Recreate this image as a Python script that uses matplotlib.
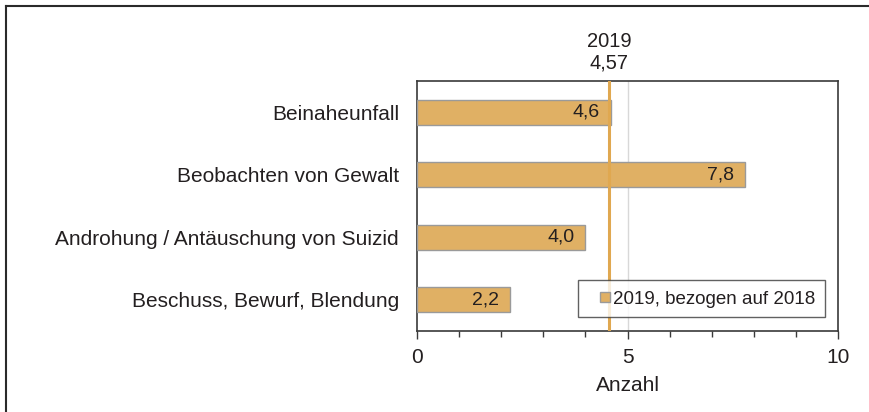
import matplotlib.pyplot as plt
from matplotlib.lines import Line2D
from matplotlib.patches import Rectangle
from matplotlib.legend_handler import HandlerPatch
from matplotlib.ticker import MultipleLocator

plt.rcParams["font.family"] = ["Liberation Sans", "DejaVu Sans"]

categories = [
    "Beinaheunfall",
    "Beobachten von Gewalt",
    "Androhung / Antäuschung von Suizid",
    "Beschuss, Bewurf, Blendung",
]
values = [4.6, 7.8, 4.0, 2.2]
reference_value = 4.57
reference_label = "2019\n4,57"
legend_label = "2019, bezogen auf 2018"

bar_color = "#E0B064"
text_color = "#231F20"


def small_square(legend, orig_handle, xdescent, ydescent, width, height, fontsize):
    # small square at the right end of the handle area
    side = 7.2
    return Rectangle((width - side - xdescent, (height - side) / 2 - ydescent), side, side)


fig = plt.figure(figsize=(8.69, 4.12), dpi=100)
ax = fig.add_axes([0.4799, 0.1966, 0.4844, 0.6068])

y = list(range(len(categories)))
bars = ax.barh(y, values, height=0.4, color=bar_color, edgecolor="#9A9A9A",
               linewidth=1, zorder=3)

for yi, v in zip(y, values):
    ax.annotate(f"{v:.1f}".replace(".", ","), xy=(v, yi), xytext=(-8, 0),
                textcoords="offset points", ha="right", va="center",
                fontsize=14, color=text_color, zorder=4)

ax.set_xlim(0, 10)
ax.set_ylim(3.5, -0.5)
ax.set_yticks(y)
ax.set_yticklabels(categories, fontsize=15, color=text_color)
ax.tick_params(axis="y", length=0, pad=13)

ax.xaxis.set_major_locator(MultipleLocator(5))
ax.xaxis.set_minor_locator(MultipleLocator(1))
ax.tick_params(axis="x", which="major", length=6, width=1, labelsize=15,
               colors="#3A3A3A", labelcolor=text_color, pad=6)
ax.tick_params(axis="x", which="minor", length=4, width=1, colors="#3A3A3A")
ax.set_xlabel("Anzahl", fontsize=15, color=text_color, labelpad=7)

# light grid line at 5
ax.axvline(5, color="#D8D8D8", linewidth=1, zorder=1)

# reference line
ax.axvline(reference_value, color="#E0A850", linewidth=2.2, zorder=5)
ax.annotate(reference_label, xy=(reference_value, 1.0), xycoords=("data", "axes fraction"),
            xytext=(0, 6), textcoords="offset points", ha="center", va="bottom",
            fontsize=14.5, color=text_color, linespacing=1.2)

for s in ax.spines.values():
    s.set_color("#3A3A3A")
    s.set_linewidth(1.2)

proxy = Rectangle((0, 0), 1, 1, facecolor=bar_color, edgecolor="#9A9A9A", linewidth=1)
leg = ax.legend([proxy], [legend_label], loc="lower right", bbox_to_anchor=(0.969, 0.056),
                borderaxespad=0, fontsize=13.5, frameon=True, fancybox=False,
                handlelength=1.2, handleheight=0.9, handletextpad=0.2, borderpad=0.5,
                handler_map={proxy: HandlerPatch(patch_func=small_square)})
leg.get_frame().set_edgecolor("#3A3A3A")
leg.get_frame().set_linewidth(1)
for t in leg.get_texts():
    t.set_color(text_color)

# outer frame (top and left only)
fig.add_artist(Line2D([0.0069, 1.0], [0.985, 0.985], transform=fig.transFigure,
                      color="#2A2A2A", linewidth=1.5))
fig.add_artist(Line2D([0.0069, 0.0069], [0.0, 0.985], transform=fig.transFigure,
                      color="#2A2A2A", linewidth=1.5))

fig.savefig("out.png", dpi=100)
